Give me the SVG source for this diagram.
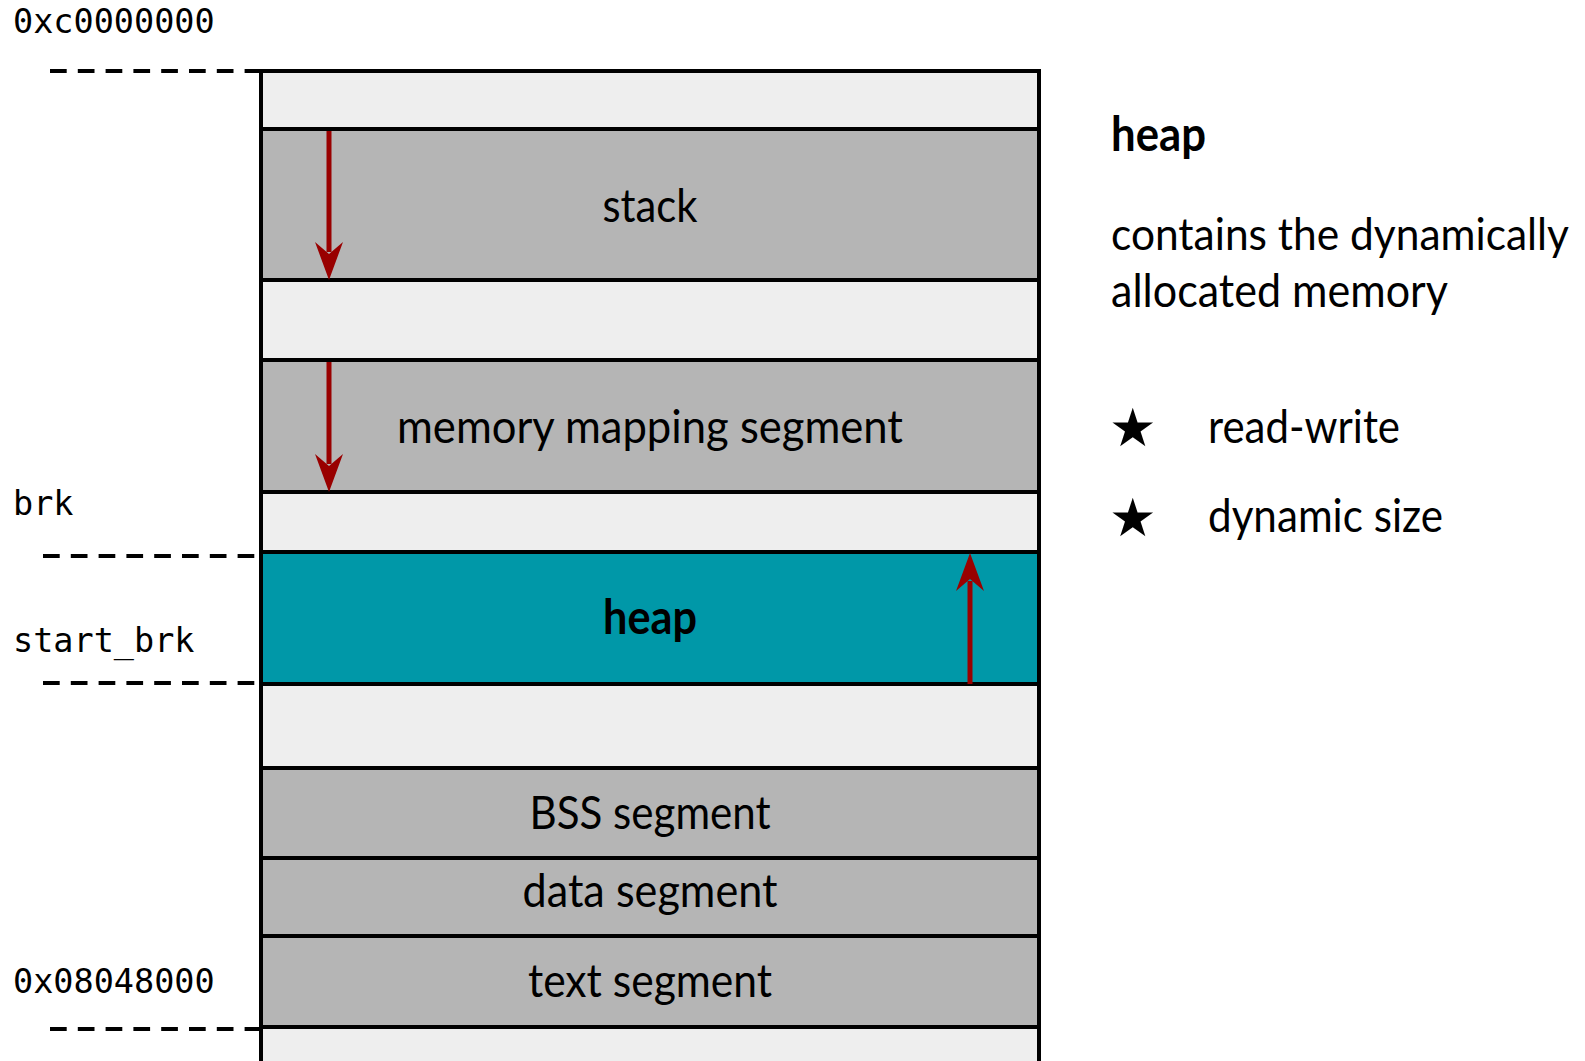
<svg xmlns="http://www.w3.org/2000/svg" width="1585" height="1061" viewBox="0 0 1585 1061">
  <style>
    .seg { stroke: #000; stroke-width: 4; }
    .free { fill: #eeeeee; }
    .used { fill: #b5b5b5; }
    .heap { fill: #0098a8; }
    .lbl { font-family: "Lato", "Noto Sans", sans-serif; font-size: 47px; fill: #000; text-anchor: middle; }
    .side { font-family: "Lato", "Noto Sans", sans-serif; font-size: 47px; fill: #000; }
    .bold { font-weight: 700; }
    .addr { font-family: "DejaVu Sans Mono", "Liberation Mono", monospace; font-size: 33.5px; fill: #000; }
    .mark { stroke: #000; stroke-width: 4; stroke-dasharray: 16.7 11.1; fill: none; }
    .grow { stroke: #990000; stroke-width: 5; fill: none; marker-end: url(#head); }
    .star { font-family: "DejaVu Sans", sans-serif; font-size: 53px; fill: #000; }
  </style>
  <defs>
    <marker id="head" markerUnits="userSpaceOnUse" markerWidth="44" markerHeight="32" viewBox="-12 -16 44 32" refX="0" refY="0" orient="auto" overflow="visible">
      <path d="M28,0 L-10,-14 L2,0 L-10,14 Z" fill="#990000"/>
    </marker>
  </defs>

  <rect width="1585" height="1061" fill="#fff"/>

  <!-- memory segments, top (high addresses) to bottom -->
  <g id="gap-top"><rect class="seg free" x="261" y="71" width="778" height="58"/></g>
  <g id="stack"><rect class="seg used" x="261" y="129" width="778" height="151"/><text class="lbl" x="650" y="222" textLength="95" lengthAdjust="spacingAndGlyphs">stack</text></g>
  <g id="gap-stack"><rect class="seg free" x="261" y="280" width="778" height="80"/></g>
  <g id="mmap"><rect class="seg used" x="261" y="360" width="778" height="132"/><text class="lbl" x="650" y="443" textLength="506" lengthAdjust="spacingAndGlyphs">memory mapping segment</text></g>
  <g id="gap-mmap"><rect class="seg free" x="261" y="492" width="778" height="60"/></g>
  <g id="heap"><rect class="seg heap" x="261" y="552" width="778" height="132"/><text class="lbl bold" x="650" y="634" textLength="94" lengthAdjust="spacingAndGlyphs">heap</text></g>
  <g id="gap-heap"><rect class="seg free" x="261" y="684" width="778" height="84"/></g>
  <g id="bss"><rect class="seg used" x="261" y="768" width="778" height="90"/><text class="lbl" x="650" y="829" textLength="241" lengthAdjust="spacingAndGlyphs">BSS segment</text></g>
  <g id="data"><rect class="seg used" x="261" y="858" width="778" height="78"/><text class="lbl" x="650" y="907" textLength="255" lengthAdjust="spacingAndGlyphs">data segment</text></g>
  <g id="text"><rect class="seg used" x="261" y="936" width="778" height="91"/><text class="lbl" x="650" y="997" textLength="244" lengthAdjust="spacingAndGlyphs">text segment</text></g>
  <g id="gap-bottom"><rect class="seg free" x="261" y="1027" width="778" height="50"/></g>

  <!-- address labels and their guide lines -->
  <g id="addresses">
    <text class="addr" x="13" y="33">0xc0000000</text>
    <line class="mark" x1="50" y1="71" x2="259" y2="71"/>
    <text class="addr" x="13" y="515">brk</text>
    <line class="mark" x1="43" y1="556" x2="259" y2="556"/>
    <text class="addr" x="13" y="652">start_brk</text>
    <line class="mark" x1="43" y1="683" x2="259" y2="683"/>
    <text class="addr" x="13" y="993">0x08048000</text>
    <line class="mark" x1="50" y1="1029" x2="259" y2="1029"/>
  </g>

  <!-- growth directions -->
  <g id="connectors">
    <line class="grow" x1="329" y1="131" x2="329" y2="252"/>
    <line class="grow" x1="329" y1="362" x2="329" y2="464"/>
    <line class="grow" x1="970" y1="684" x2="970" y2="581"/>
  </g>

  <!-- description panel -->
  <g id="legend">
    <text class="side bold" x="1111" y="151" textLength="95" lengthAdjust="spacingAndGlyphs">heap</text>
    <text class="side" x="1111" y="250" style="font-size:43.5px" textLength="458" lengthAdjust="spacingAndGlyphs">contains the dynamically</text>
    <text class="side" x="1111" y="307" textLength="337" lengthAdjust="spacingAndGlyphs">allocated memory</text>
    <text class="star" x="1109" y="446">★</text>
    <text class="side" x="1208" y="443" textLength="192" lengthAdjust="spacingAndGlyphs">read-write</text>
    <text class="star" x="1109" y="536">★</text>
    <text class="side" x="1208" y="532" textLength="235" lengthAdjust="spacingAndGlyphs">dynamic size</text>
  </g>
</svg>
